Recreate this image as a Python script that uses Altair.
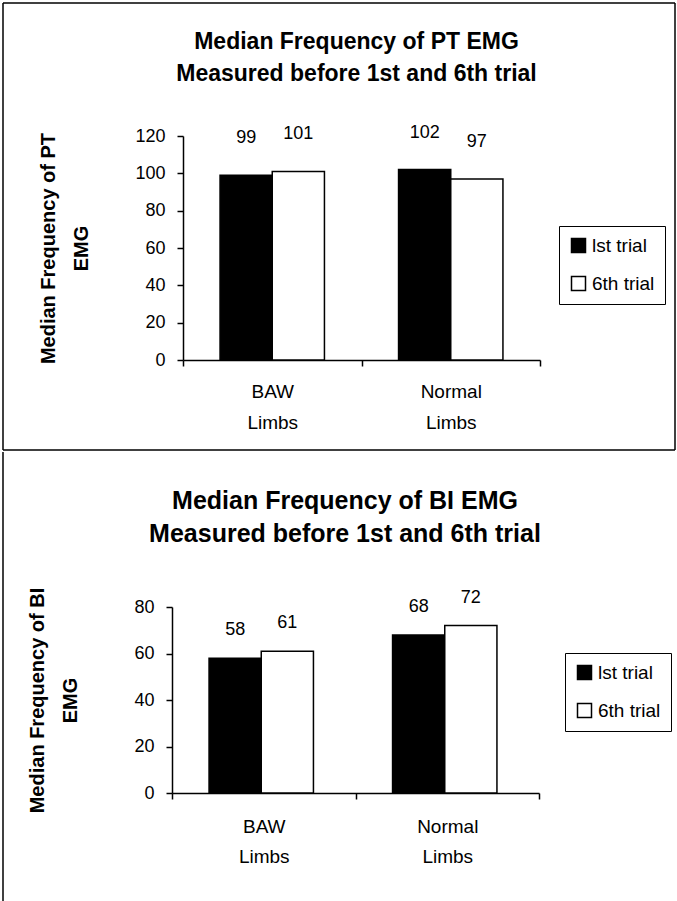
import altair as alt
import pandas as pd

FONT = "Liberation Sans"

groups = ["BAW Limbs", "Normal Limbs"]
trials = ["lst trial", "6th trial"]
pt_first = [99, 102]
pt_sixth = [101, 97]
bi_first = [58, 68]
bi_sixth = [61, 72]
pt_ticks = [0, 20, 40, 60, 80, 100, 120]
bi_ticks = [0, 20, 40, 60, 80]
pt_title = ["Median Frequency of PT EMG", "Measured before 1st and 6th trial"]
bi_title = ["Median Frequency of BI EMG", "Measured before 1st and 6th trial"]
pt_ytitle = ["Median Frequency of PT", "EMG"]
bi_ytitle = ["Median Frequency of BI", "EMG"]


def make_df(first, sixth):
    rows = []
    for g, a, b in zip(groups, first, sixth):
        rows.append({"group": g, "trial": trials[0], "value": a})
        rows.append({"group": g, "trial": trials[1], "value": b})
    return pd.DataFrame(rows)


deco = pd.DataFrame({"d": [0]})


def hrule(x1, x2, y):
    return alt.Chart(deco).mark_rule(color="black", strokeWidth=1.5).encode(
        x=alt.value(x1), x2=alt.value(x2), y=alt.value(y))


def vrule(x, y1, y2):
    return alt.Chart(deco).mark_rule(color="black", strokeWidth=1.5).encode(
        x=alt.value(x), y=alt.value(y1), y2=alt.value(y2))


def panel(df, title, ytitle, ticks, W, xrange, yoff, H, label_dy, lx, ly,
          tdx, toff, tsize, tlh, xlp, xlh, frames):
    xscale = alt.Scale(paddingInner=0, paddingOuter=0, range=xrange)
    base = alt.Chart(df).encode(
        x=alt.X("group:N", sort=groups, scale=xscale,
                axis=alt.Axis(title=None, labelAngle=0, tickBand="extent",
                              labelExpr="split(datum.label, ' ')",
                              labelFontSize=19, labelLineHeight=xlh,
                              labelPadding=xlp, tickSize=6,
                              labelFont=FONT, labelColor="black",
                              domainColor="black", tickColor="black",
                              domainWidth=1.5, tickWidth=1.5)),
        xOffset=alt.XOffset("trial:N", sort=trials,
                            scale=alt.Scale(paddingInner=0, paddingOuter=0.71)),
        y=alt.Y("value:Q",
                scale=alt.Scale(domain=[ticks[0], ticks[-1]], nice=False),
                axis=alt.Axis(values=ticks, grid=False, title=ytitle,
                              offset=yoff,
                              labelFontSize=18, labelFont=FONT,
                              labelColor="black", labelPadding=12,
                              tickSize=6, domainColor="black",
                              tickColor="black", domainWidth=1.5,
                              tickWidth=1.5, titleFont=FONT,
                              titleFontSize=20, titleFontWeight="bold",
                              titleColor="black", titleLineHeight=33,
                              titleAngle=270, titleAlign="center",
                              titleBaseline="top", titleX=-145,
                              titleY=H / 2)),
    )
    bars = base.mark_bar(stroke="black", strokeWidth=1.5).encode(
        color=alt.Color("trial:N", sort=trials, title=None,
                        scale=alt.Scale(domain=trials,
                                        range=["black", "white"]),
                        legend=alt.Legend(orient="none", legendX=lx,
                                          legendY=ly, strokeColor="black",
                                          padding=10, rowPadding=17,
                                          labelFontSize=19, labelFont=FONT,
                                          labelColor="black",
                                          symbolType="square",
                                          symbolSize=196,
                                          symbolStrokeColor="black",
                                          symbolStrokeWidth=1.5,
                                          labelOffset=4)))
    labels = base.mark_text(dy=label_dy, baseline="alphabetic", fontSize=18,
                            font=FONT, color="black").encode(text="value:Q")
    layers = [bars, labels] + frames
    return alt.layer(*layers).properties(
        width=W, height=H,
        view=alt.ViewBackground(strokeWidth=0, strokeOpacity=0),
        title=alt.Title(title, fontSize=tsize, font=FONT, fontWeight="bold",
                        lineHeight=tlh, frame="group", anchor="middle",
                        dx=tdx, offset=toff, color="black"))


top_frames = [
    hrule(-180, 492, -133),
    vrule(-180, -133, 314),
    vrule(492, -133, 314),
    hrule(-180, 492, 314),
]
top = panel(make_df(pt_first, pt_sixth), pt_title, pt_ytitle, pt_ticks,
            357, [0, 357], 0, 224, -32, 376, 90, -5, -84, 23, 32, 16, 31,
            top_frames)

bottom_frames = [
    vrule(-180, -155, 295),
]
bottom = panel(make_df(bi_first, bi_sixth), bi_title, bi_ytitle, bi_ticks,
               356, [-11, 356], 11, 186, -23, 382, 46, -16, -96, 25, 33, 18,
               30, bottom_frames)

chart = alt.concat(top, bottom, columns=1, spacing=0, align="none",
                   padding={"left": 2, "top": 2, "right": 0, "bottom": 0}
                   ).resolve_scale(
    color="independent", x="independent", y="independent"
).resolve_legend(color="independent").configure_view(
    strokeWidth=0, strokeOpacity=0)

chart.save("out.html", embed_options={"renderer": "svg", "actions": False})
